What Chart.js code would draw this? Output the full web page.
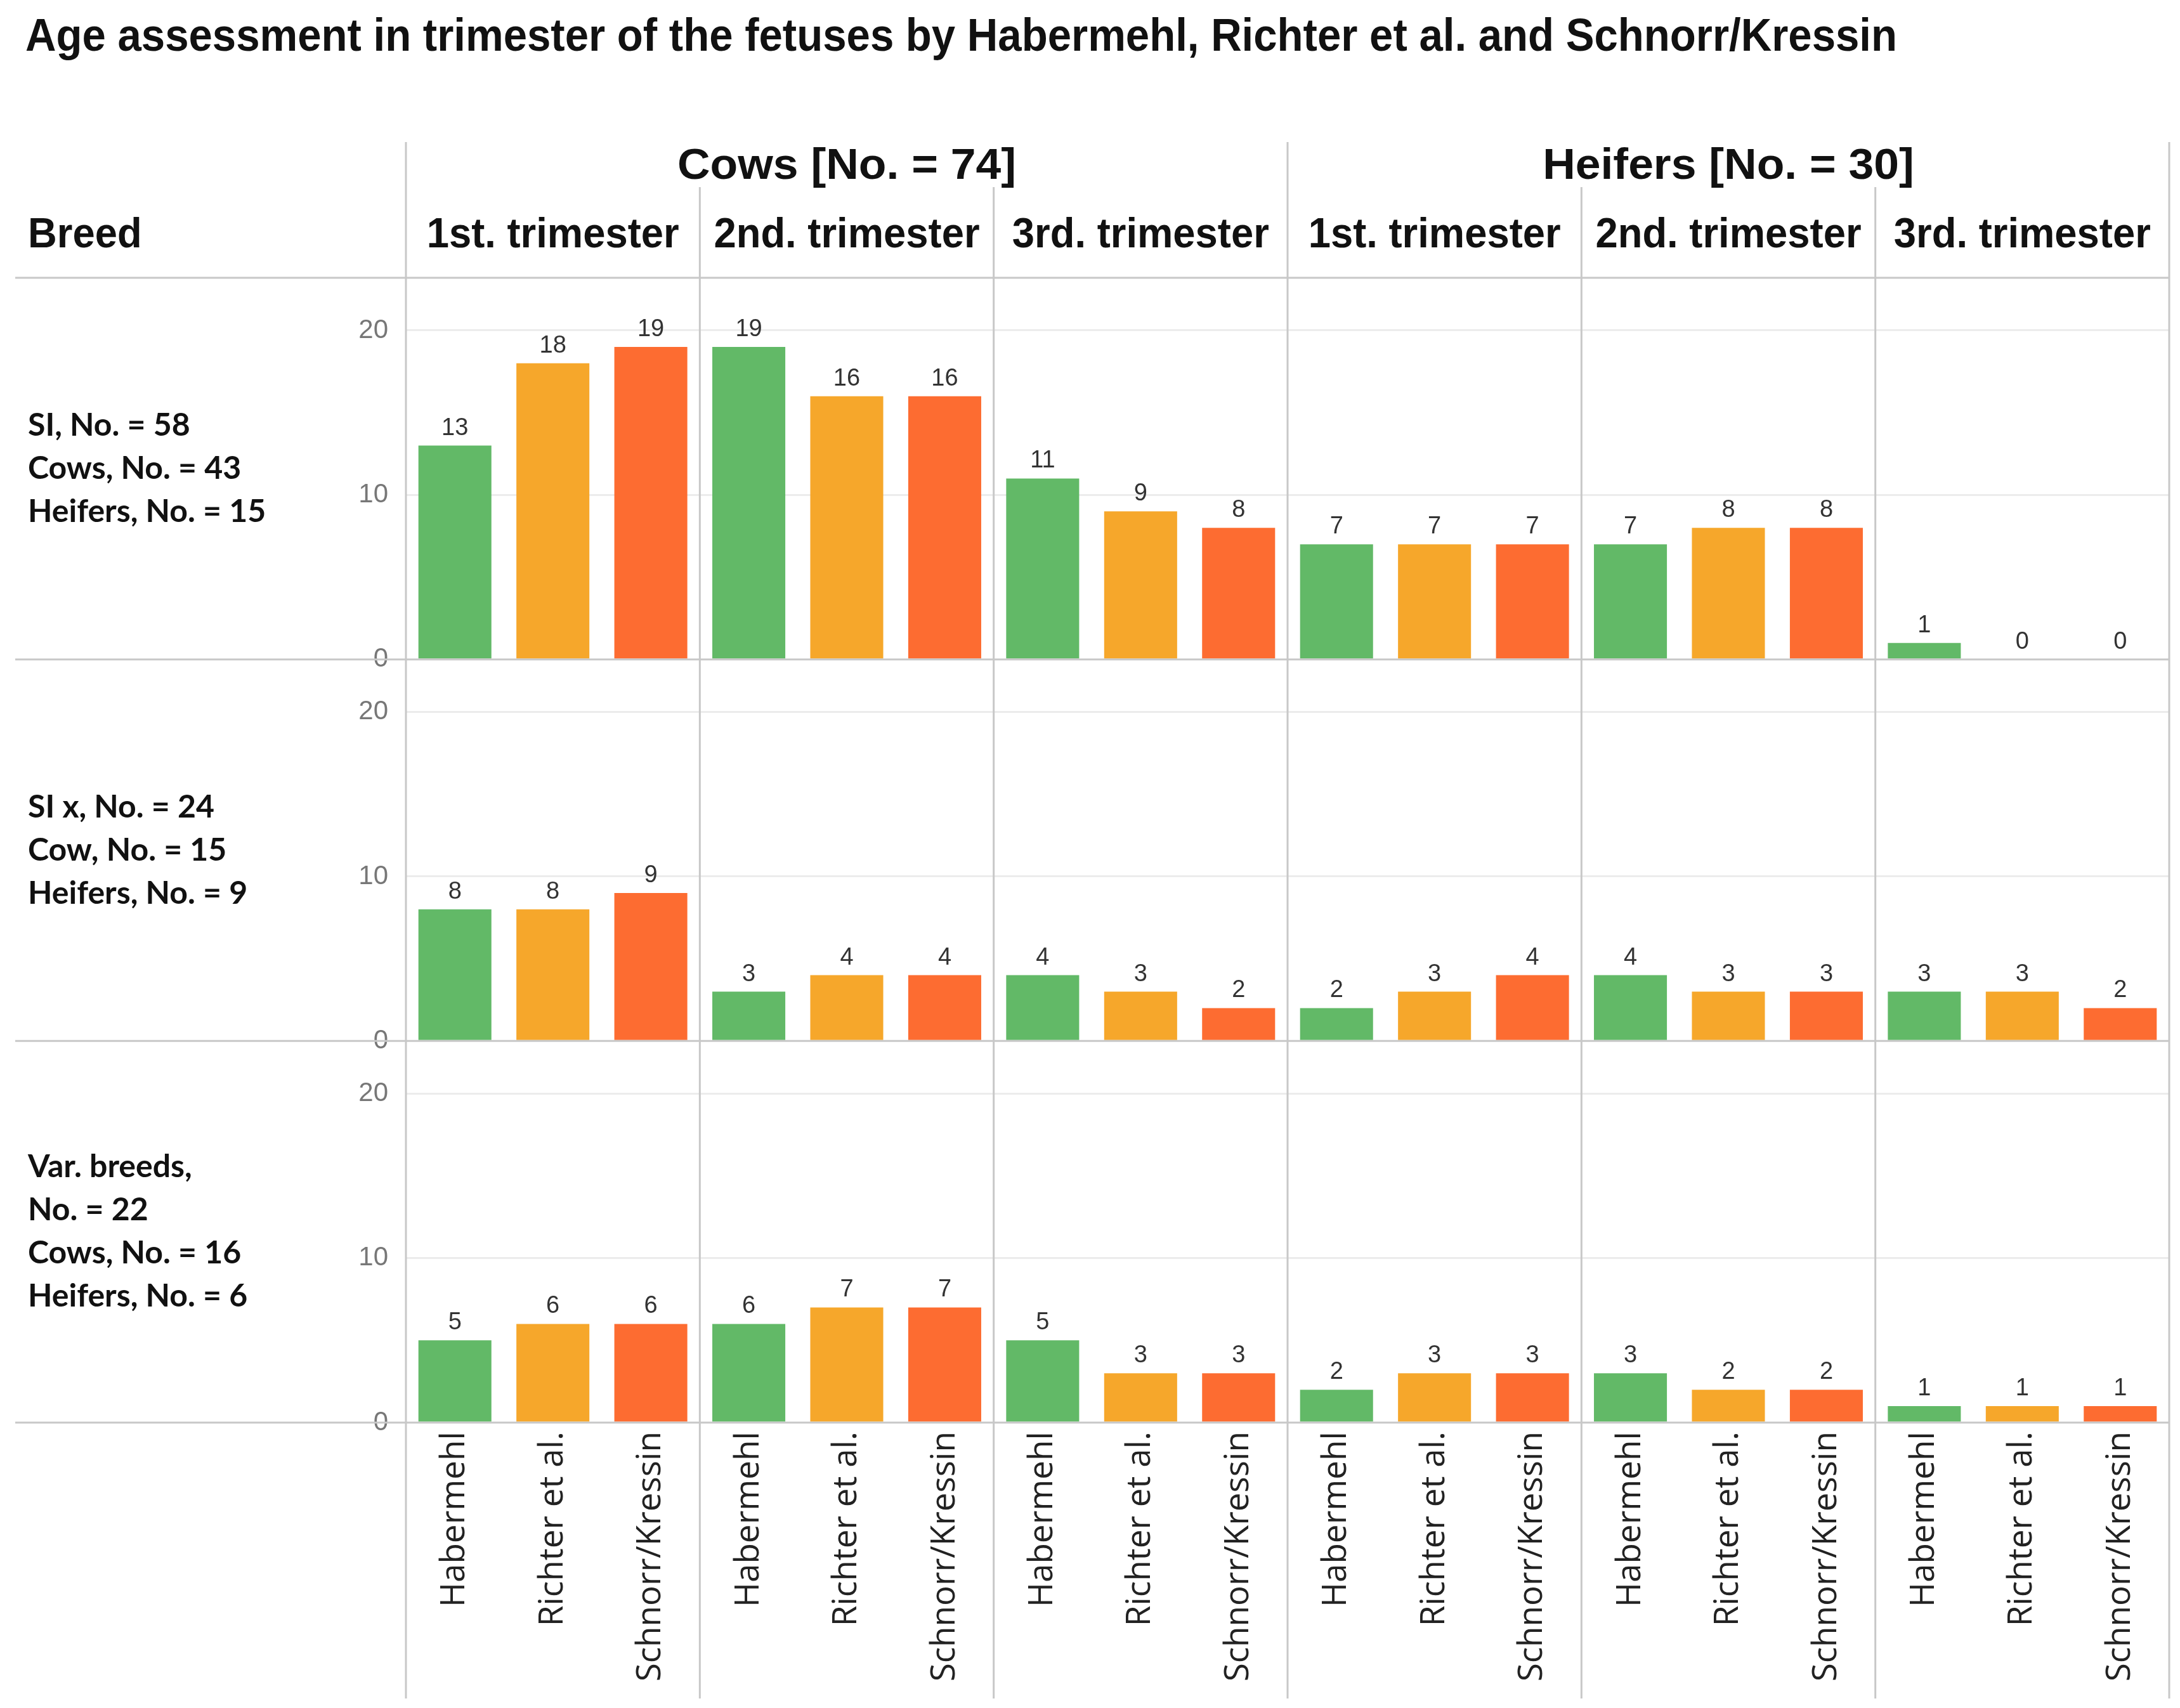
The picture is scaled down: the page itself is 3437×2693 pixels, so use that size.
<!DOCTYPE html>
<html>
<head>
  <meta charset="utf-8">
  <title>Age assessment in trimester of the fetuses</title>
  <script src="https://cdn.jsdelivr.net/npm/chart.js"></script>
  <style>
    body {
      margin: 0;
      background-color: #ffffff;
    }
    #wrap {
      position: relative;
      width: 3437px;
      height: 2693px;
    }
  </style>
</head>
<body>
  <div id="wrap"><canvas id="chart"></canvas></div>
  <script>
    const chartTitle = "Age assessment in trimester of the fetuses by Habermehl, Richter et al. and Schnorr/Kressin";
    const methods = ["Habermehl", "Richter et al.", "Schnorr/Kressin"];
    const groups = ["Cows [No. = 74]", "Heifers [No. = 30]"];
    const trimesters = ["1st. trimester", "2nd. trimester", "3rd. trimester"];
    const breedLabels = [
      ["SI, No. = 58", "Cows, No. = 43", "Heifers, No. = 15"],
      ["SI x, No. = 24", "Cow, No. = 15", "Heifers, No. = 9"],
      ["Var. breeds,", "No. = 22", "Cows, No. = 16", "Heifers, No. = 6"]
    ];

    // cows 1st/2nd/3rd, then heifers 1st/2nd/3rd, three methods each
    const siValues  = [13, 18, 19, 19, 16, 16, 11, 9, 8, 7, 7, 7, 7, 8, 8, 1, 0, 0];
    const sixValues = [8, 8, 9, 3, 4, 4, 4, 3, 2, 2, 3, 4, 4, 3, 3, 3, 3, 2];
    const varValues = [5, 6, 6, 6, 7, 7, 5, 3, 3, 2, 3, 3, 3, 2, 2, 1, 1, 1];
    const yTicks = [0, 10, 20];
    const methodColors = ["#62b967", "#f6a72b", "#fd6c31"];

    const categories = [];
    groups.forEach(() => trimesters.forEach(() => methods.forEach(m => categories.push(m))));
    const barColors = categories.map((_, i) => methodColors[i % 3]);

    const lineColor = "#c8c8c8";
    const sansFont = "'Liberation Sans', Arial, sans-serif";

    function yScale(weight) {
      return {
        type: "linear",
        position: "left",
        stack: "breed",
        stackWeight: 1,
        weight: weight,
        min: 0,
        max: 23.2,
        afterBuildTicks: scale => { scale.ticks = yTicks.map(v => ({ value: v })); },
        afterFit: scale => { scale.width = 640; },
        border: { display: false },
        grid: {
          drawTicks: false,
          lineWidth: 3,
          color: c => (c.tick && c.tick.value === 0 ? "rgba(0,0,0,0)" : "#ececec")
        },
        ticks: {
          padding: 28,
          color: "#777777",
          font: { family: sansFont, size: 42 }
        }
      };
    }

    function line(ctx, x1, y1, x2, y2) {
      ctx.beginPath();
      ctx.moveTo(x1, y1);
      ctx.lineTo(x2, y2);
      ctx.stroke();
    }

    // draw text squeezed/stretched horizontally by sx
    function fitText(ctx, text, x, y, sx) {
      ctx.save();
      ctx.translate(x, y);
      ctx.scale(sx, 1);
      ctx.fillText(text, 0, 0);
      ctx.restore();
    }

    const framePlugin = {
      id: "frame",
      afterDatasetsDraw(chart) {
        const ctx = chart.ctx;
        ctx.save();
        ctx.fillStyle = "#333333";
        ctx.font = "38px " + sansFont;
        ctx.textAlign = "center";
        ctx.textBaseline = "alphabetic";
        chart.data.datasets.forEach((ds, di) => {
          chart.getDatasetMeta(di).data.forEach((bar, i) => {
            ctx.fillText(String(ds.data[i]), bar.x, bar.y - 17);
          });
        });
        ctx.restore();
      },
      afterDraw(chart) {
        const { ctx, chartArea, scales } = chart;
        const left = chartArea.left;
        const right = chartArea.right;
        const colW = (right - left) / 6;
        const panels = [scales.ySi, scales.ySix, scales.yVar];

        ctx.save();
        ctx.strokeStyle = lineColor;
        ctx.lineWidth = 3;
        [chartArea.top, ...panels.map(p => p.bottom)].forEach(y => line(ctx, 24, y, right, y));
        for (let i = 0; i <= 6; i++) {
          const x = left + colW * i;
          line(ctx, x, i % 3 === 0 ? 224 : 295, x, 2678);
        }

        ctx.fillStyle = "#111111";
        ctx.textBaseline = "middle";
        ctx.textAlign = "left";
        ctx.font = "bold 72px " + sansFont;
        fitText(ctx, chartTitle, 40, 60, 2951 / ctx.measureText(chartTitle).width);

        ctx.font = "bold 68px " + sansFont;
        ctx.textAlign = "center";
        const gsx = 534 / ctx.measureText(groups[0]).width;
        groups.forEach((g, gi) => fitText(ctx, g, left + colW * (gi * 3 + 1.5), 263, gsx));

        ctx.font = "bold 66px " + sansFont;
        const tsx = 398 / ctx.measureText(trimesters[0]).width;
        for (let c = 0; c < 6; c++) {
          fitText(ctx, trimesters[c % 3], left + colW * (c + 0.5), 372, tsx);
        }
        ctx.textAlign = "left";
        fitText(ctx, "Breed", 44, 372, tsx);

        ctx.font = "bold 50px Lato, sans-serif";
        panels.forEach((p, pi) => {
          const rows = breedLabels[pi];
          const mid = (p.top + p.bottom) / 2;
          const lh = 68;
          rows.forEach((r, ri) => {
            ctx.fillText(r, 44, mid + (ri - (rows.length - 1) / 2) * lh);
          });
        });
        ctx.restore();
      }
    };

    function barSet(label, values, axis) {
      return {
        label: label,
        data: values,
        yAxisID: axis,
        grouped: false,
        backgroundColor: barColors,
        borderWidth: 0,
        barPercentage: 0.745,
        categoryPercentage: 1.0
      };
    }

    const ctx = document.getElementById("chart").getContext("2d");
    new Chart(ctx, {
      type: "bar",
      data: {
        labels: categories,
        datasets: [
          barSet("SI", siValues, "ySi"),
          barSet("SI x", sixValues, "ySix"),
          barSet("Var. breeds", varValues, "yVar")
        ]
      },
      plugins: [framePlugin],
      options: {
        responsive: true,
        maintainAspectRatio: false,
        devicePixelRatio: 1,
        animation: false,
        layout: { padding: { top: 438, right: 17, left: 0, bottom: 0 } },
        plugins: {
          legend: { display: false },
          tooltip: { enabled: false }
        },
        scales: {
          x: {
            afterFit: scale => { scale.height = 450; },
            border: { display: false },
            grid: { display: false },
            ticks: {
              autoSkip: false,
              maxRotation: 90,
              minRotation: 90,
              padding: 6,
              color: "#222222",
              font: { family: "'Open Sans', sans-serif", size: 53 }
            }
          },
          ySi: yScale(3),
          ySix: yScale(2),
          yVar: yScale(1)
        }
      }
    });
  </script>
</body>
</html>
